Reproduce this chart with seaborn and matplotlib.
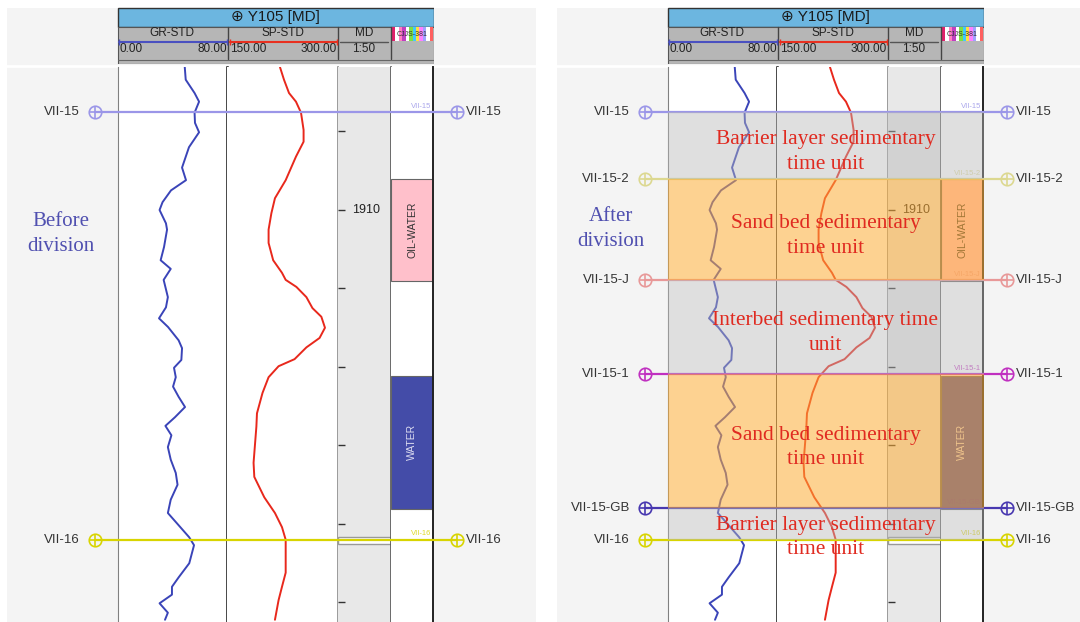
import numpy as np
import pandas as pd
import seaborn as sns
import matplotlib.pyplot as plt
from matplotlib.patches import Rectangle

# ---- log curves (depth in m) ----
gr_depth = [1908.18, 1908.34, 1908.51, 1908.62, 1908.76, 1908.89, 1909.01, 1909.20, 1909.46, 1909.62,
            1909.75, 1909.90, 1910.00, 1910.17, 1910.25, 1910.47, 1910.64, 1910.75, 1910.89, 1911.11,
            1911.24, 1911.38, 1911.49, 1911.66, 1911.76, 1911.91, 1912.01, 1912.13, 1912.25, 1912.38,
            1912.51, 1912.64, 1912.75, 1912.87, 1913.02, 1913.18, 1913.35, 1913.50, 1913.69, 1913.86,
            1913.99, 1914.17, 1914.27, 1914.50, 1914.68, 1914.80, 1914.90, 1915.01, 1915.13, 1915.22]
gr_value = [49.0, 49.7, 56.2, 59.5, 56.2, 56.5, 59.5, 52.1, 47.0, 49.9,
            38.9, 32.7, 30.5, 35.2, 36.0, 33.8, 31.3, 38.7, 33.5, 36.6,
            35.2, 30.1, 36.7, 44.5, 47.0, 46.5, 41.1, 42.4, 40.4, 44.5,
            49.2, 41.8, 34.8, 39.2, 36.6, 38.7, 42.4, 43.7, 38.7, 36.6,
            43.2, 52.3, 55.8, 52.3, 44.5, 39.6, 39.6, 30.5, 36.6, 34.5]

sp_depth = [1908.18, 1908.34, 1908.51, 1908.62, 1908.76, 1908.98, 1909.13, 1909.32, 1909.62, 1909.85,
            1910.04, 1910.25, 1910.42, 1910.64, 1910.80, 1910.89, 1910.98, 1911.11, 1911.25, 1911.36,
            1911.50, 1911.63, 1911.75, 1911.90, 1911.99, 1912.13, 1912.33, 1912.59, 1912.76, 1913.22,
            1913.40, 1913.66, 1913.86, 1914.04, 1914.20, 1914.62, 1914.80, 1914.97, 1915.22]
sp_value = [221.6, 227.0, 233.8, 243.2, 250.0, 253.5, 253.5, 243.2, 229.3, 214.8,
            210.0, 206.2, 206.2, 212.4, 224.3, 229.3, 243.8, 257.3, 265.5, 277.5,
            282.4, 275.1, 257.3, 241.3, 219.7, 206.2, 198.0, 190.5, 189.7, 185.9,
            186.9, 200.4, 214.8, 224.3, 229.3, 229.3, 224.3, 219.7, 214.8]

# ---- interpretation ----
zone_names = ['OIL-WATER', 'WATER']
zone_top = [1909.61, 1912.11]
zone_base = [1910.90, 1913.81]
zone_colors = ['#ffc0cb', '#444ca8']
zone_text_colors = ['#333333', '#dcdcf0']

md_break = (1914.17, 1914.26)

before_names = ['VII-15', 'VII-16']
before_depth = [1908.75, 1914.20]
before_colors = ['#9b96e8', '#d8d400']

after_names = ['VII-15', 'VII-15-2', 'VII-15-J', 'VII-15-1', 'VII-15-GB', 'VII-16']
after_depth = [1908.75, 1909.61, 1910.89, 1912.09, 1913.80, 1914.20]
after_colors = ['#9b96e8', '#dcd890', '#e89898', '#c030c0', '#4838b0', '#d8d400']

unit_labels = ['Barrier layer sedimentary\ntime unit', 'Sand bed sedimentary\ntime unit',
               'Interbed sedimentary time\nunit', 'Sand bed sedimentary\ntime unit',
               'Barrier layer sedimentary\ntime unit']
unit_kind = ['barrier', 'sand', 'interbed', 'sand', 'barrier']

W, H = 1080, 622
GR_COLOR, SP_COLOR = '#3a44b8', '#e8281c'
BAND_STYLE = {'barrier': ('#b8b8b8', 0.45), 'interbed': ('#b8b8b8', 0.45), 'sand': ('#fdae38', 0.55)}


def depth_of_px(y):
    return 1910 + (y - 210) / 78.5


D_TOP, D_BOT = depth_of_px(67), depth_of_px(622)

sns.set_style('white')
plt.rcParams['font.family'] = ['Liberation Sans', 'DejaVu Sans']
SERIF = ['Liberation Serif', 'DejaVu Serif']

fig = plt.figure(figsize=(W / 100, H / 100), dpi=100)


def px_axes(x0, y0, x1, y1):
    return fig.add_axes([x0 / W, 1 - y1 / H, (x1 - x0) / W, (y1 - y0) / H])


def clean(ax):
    ax.set_xticks([])
    ax.set_yticks([])
    ax.set_xlabel('')
    ax.set_ylabel('')
    for s in ax.spines.values():
        s.set_visible(False)


gr_df = pd.DataFrame({'depth': gr_depth, 'GR': gr_value})
sp_df = pd.DataFrame({'depth': sp_depth, 'SP': sp_value})
strip_colors = ['#e0206a', '#ffffff', '#ff7fc0', '#c040c0', '#ffffff', '#7fe040',
                '#40c8ff', '#ffe040', '#ff80ff', '#a0a0ff', '#ffffff', '#ff6060']


def draw_header(dx):
    h = px_axes(117 + dx, 7, 434 + dx, 64)
    h.set_xlim(117, 434)
    h.set_ylim(64, 7)
    h.axis('off')
    h.add_patch(Rectangle((117.5, 7.5), 316, 19, fc='#6cb6e0', ec='#333', lw=1))
    h.text(275, 17, '\u2295 Y105 [MD]', ha='center', va='center', fontsize=11, color='#1a1a1a')
    h.add_patch(Rectangle((117.5, 26.5), 316, 37, fc='#b6b6b6', ec='#555', lw=0.8))
    for xv in [228, 338, 391]:
        h.plot([xv, xv], [26.5, 59], color='#444', lw=1)
    h.plot([117.5, 433.5], [59.5, 59.5], color='#666', lw=0.8)
    h.text(172, 33, 'GR-STD', ha='center', va='center', fontsize=8.5, color='#222')
    h.plot([118.5, 227], [42, 42], color='#4a50c0', lw=1.5, marker='|', ms=4)
    h.text(119, 49.5, '0.00', ha='left', va='center', fontsize=8.5, color='#222')
    h.text(227, 49.5, '80.00', ha='right', va='center', fontsize=8.5, color='#222')
    h.text(283, 33, 'SP-STD', ha='center', va='center', fontsize=8.5, color='#222')
    h.plot([229.5, 336.5], [42, 42], color='#e83020', lw=1.5, marker='|', ms=4)
    h.text(230, 49.5, '150.00', ha='left', va='center', fontsize=8.5, color='#222')
    h.text(337, 49.5, '300.00', ha='right', va='center', fontsize=8.5, color='#222')
    h.text(364, 33, 'MD', ha='center', va='center', fontsize=8.5, color='#222')
    h.plot([340, 388], [42, 42], color='#555', lw=1)
    h.text(364, 49.5, '1:50', ha='center', va='center', fontsize=8.5, color='#222')
    sw = 41 / len(strip_colors)
    for i, c in enumerate(strip_colors):
        h.add_patch(Rectangle((392 + i * sw, 27), sw, 14, fc=c, ec='none'))
    h.text(412, 34, 'CJJS-381', ha='center', va='center', fontsize=5, color='#333')


def draw_panel(dx, names, depths, colors, caption, caption_px, units=None):
    bg = px_axes(7 + dx, 8, 536 + dx, 622)
    bg.set_facecolor('#f4f4f4')
    clean(bg)
    bg.set_xlim(0, 1)
    bg.set_ylim(622, 8)
    bg.axhline(65.5, color='white', lw=2)
    draw_header(dx)

    edges = [118, 227, 338, 391, 433]
    tracks = []
    for i in range(4):
        ax = px_axes(edges[i] + dx, 67, edges[i + 1] + dx, 622)
        ax.set_ylim(D_BOT, D_TOP)
        tracks.append(ax)
    gr_ax, sp_ax, md_ax, zn_ax = tracks

    sns.lineplot(data=gr_df, x='GR', y='depth', orient='y', sort=False, estimator=None,
                 color=GR_COLOR, lw=1.4, ax=gr_ax)
    sns.lineplot(data=sp_df, x='SP', y='depth', orient='y', sort=False, estimator=None,
                 color=SP_COLOR, lw=1.4, ax=sp_ax)
    gr_ax.set_xlim(0, 80)
    sp_ax.set_xlim(150, 300)
    for ax in tracks:
        clean(ax)
        ax.set_ylim(D_BOT, D_TOP)
    gr_ax.set_facecolor('white')
    sp_ax.set_facecolor('white')
    md_ax.set_facecolor('#e8e8e8')
    zn_ax.set_facecolor('white')
    gr_ax.spines['left'].set_visible(True)
    gr_ax.spines['left'].set_color('#808080')
    gr_ax.spines['right'].set_visible(True)
    gr_ax.spines['right'].set(color='#111', lw=1.8)
    sp_ax.spines['right'].set_visible(True)
    sp_ax.spines['right'].set(color='#8a8a8a', lw=1.2)
    md_ax.spines['right'].set_visible(True)
    md_ax.spines['right'].set(color='#555', lw=1.2)
    zn_ax.spines['right'].set_visible(True)
    zn_ax.spines['right'].set(color='#222', lw=1.4)

    md_ax.set_yticks(np.arange(1909, 1916))
    md_ax.tick_params(axis='y', left=True, direction='in', length=5, width=1,
                      color='#333', labelleft=False)
    md_ax.text(0.26, 1910, '1910', transform=md_ax.get_yaxis_transform(),
               ha='left', va='center', fontsize=9, color='#222')
    md_ax.axhspan(*md_break, fc='white', ec='#999', lw=1)

    for name, top, base, fc, tc in zip(zone_names, zone_top, zone_base, zone_colors, zone_text_colors):
        zn_ax.axhspan(top, base, fc=fc, ec='#666', lw=0.8)
        zn_ax.text(0.5, (top + base) / 2, name, rotation=90, ha='center', va='center',
                   transform=zn_ax.get_yaxis_transform(), fontsize=7.5, color=tc)

    ov = px_axes(7 + dx, 67, 536 + dx, 622)
    ov.set_xlim(7 + dx, 536 + dx)
    ov.set_ylim(D_BOT, D_TOP)
    ov.axis('off')
    ov.patch.set_visible(False)
    ov.set_zorder(10)

    for name, d, c in zip(names, depths, colors):
        ov.plot([95 + dx, 457 + dx], [d, d], color=c, lw=1.6, zorder=2, solid_capstyle='butt')
        for mk in ['o', '+']:
            ov.plot([95 + dx, 457 + dx], [d, d], ls='none', marker=mk, ms=9, mfc='none',
                    mec=c, mew=1.2, zorder=2)
        ov.text(80 + dx, d, name, ha='right', va='center', fontsize=9.5, color='#333')
        ov.text(466 + dx, d, name, ha='left', va='center', fontsize=9.5, color='#333')
        ov.text(431 + dx, d - 0.03, name, ha='right', va='bottom', fontsize=5.5,
                color=c, alpha=0.85)

    ov.text(61 + dx, depth_of_px(caption_px), caption, ha='center', va='center',
            fontsize=15, color='#5050b0', family=SERIF, linespacing=1.45)

    if units:
        for i, (lab, kind) in enumerate(zip(unit_labels, unit_kind)):
            top, base = depths[i], depths[i + 1]
            c, a = BAND_STYLE[kind]
            ov.fill_betweenx([top, base], 118 + dx, 434 + dx, color=c, alpha=a, lw=0, zorder=3)
            mid = max((top + base) / 2 + 0.08, top + 0.37)
            ov.text(275.5 + dx, mid, lab, ha='center', va='center', fontsize=15.5,
                    color='#e02a20', family=SERIF, linespacing=1.4, zorder=5)


draw_panel(0, before_names, before_depth, before_colors, 'Before\ndivision', 234)
draw_panel(550, after_names, after_depth, after_colors, 'After\ndivision', 229, units=True)

fig.savefig('out.png', dpi=100)
